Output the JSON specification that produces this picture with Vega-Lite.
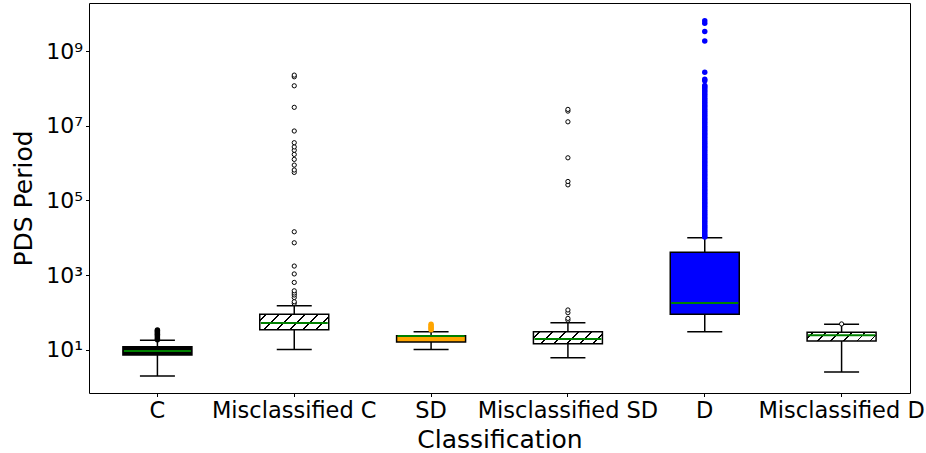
{
  "$schema": "https://vega.github.io/schema/vega-lite/v6.json",
  "width": 821,
  "height": 390,
  "autosize": {"type": "none"},
  "padding": {"left": 89, "top": 3, "right": 16, "bottom": 60},
  "background": "white",
  "config": {
    "font": "DejaVu Sans",
    "view": {"stroke": "#000000", "strokeWidth": 1},
    "axis": {"domain": false, "grid": false, "tickColor": "#000000", "labelColor": "#000000", "titleColor": "#000000", "titleFontWeight": "normal", "tickWidth": 1, "tickSize": 3.5}
  },
  "datasets": {
    "stats": [
      {"cls": "C", "lower": 1.98, "q1": 7.2, "median": 9.2, "q3": 12.0, "upper": 17.9},
      {"cls": "Misclassified C", "lower": 10.2, "q1": 34.3, "median": 51.9, "q3": 88.7, "upper": 150},
      {"cls": "SD", "lower": 10.2, "q1": 16.1, "median": 23.3, "q3": 23.7, "upper": 30.3},
      {"cls": "Misclassified SD", "lower": 6.1, "q1": 14.5, "median": 19.3, "q3": 30.3, "upper": 52.8},
      {"cls": "D", "lower": 30.3, "q1": 88.7, "median": 178, "q3": 4100, "upper": 10000},
      {"cls": "Misclassified D", "lower": 2.53, "q1": 17.1, "median": 24.3, "q3": 29.3, "upper": 47.9}
    ],
    "outliers": [
      {"cls": "C", "value": 18.5}, {"cls": "C", "value": 20}, {"cls": "C", "value": 22}, {"cls": "C", "value": 24}, {"cls": "C", "value": 26}, {"cls": "C", "value": 28}, {"cls": "C", "value": 30}, {"cls": "C", "value": 32}, {"cls": "C", "value": 33.5},
      {"cls": "Misclassified C", "value": 174}, {"cls": "Misclassified C", "value": 193}, {"cls": "Misclassified C", "value": 250}, {"cls": "Misclassified C", "value": 292}, {"cls": "Misclassified C", "value": 330}, {"cls": "Misclassified C", "value": 378}, {"cls": "Misclassified C", "value": 634}, {"cls": "Misclassified C", "value": 1070}, {"cls": "Misclassified C", "value": 1740}, {"cls": "Misclassified C", "value": 7300}, {"cls": "Misclassified C", "value": 14400}, {"cls": "Misclassified C", "value": 560000}, {"cls": "Misclassified C", "value": 650000}, {"cls": "Misclassified C", "value": 880000}, {"cls": "Misclassified C", "value": 1250000}, {"cls": "Misclassified C", "value": 1700000}, {"cls": "Misclassified C", "value": 2200000}, {"cls": "Misclassified C", "value": 2700000}, {"cls": "Misclassified C", "value": 3500000}, {"cls": "Misclassified C", "value": 7200000}, {"cls": "Misclassified C", "value": 31000000}, {"cls": "Misclassified C", "value": 117000000}, {"cls": "Misclassified C", "value": 204000000}, {"cls": "Misclassified C", "value": 226000000},
      {"cls": "SD", "value": 34}, {"cls": "SD", "value": 37}, {"cls": "SD", "value": 40}, {"cls": "SD", "value": 44}, {"cls": "SD", "value": 48},
      {"cls": "Misclassified SD", "value": 62}, {"cls": "Misclassified SD", "value": 69}, {"cls": "Misclassified SD", "value": 98}, {"cls": "Misclassified SD", "value": 116}, {"cls": "Misclassified SD", "value": 260000}, {"cls": "Misclassified SD", "value": 320000}, {"cls": "Misclassified SD", "value": 1380000}, {"cls": "Misclassified SD", "value": 12700000}, {"cls": "Misclassified SD", "value": 24600000}, {"cls": "Misclassified SD", "value": 27300000},
      {"cls": "D", "value": 10500}, {"cls": "D", "value": 11220}, {"cls": "D", "value": 12589}, {"cls": "D", "value": 14125}, {"cls": "D", "value": 15849}, {"cls": "D", "value": 17783}, {"cls": "D", "value": 19953}, {"cls": "D", "value": 22387}, {"cls": "D", "value": 25119}, {"cls": "D", "value": 28184}, {"cls": "D", "value": 31623}, {"cls": "D", "value": 35481}, {"cls": "D", "value": 39811}, {"cls": "D", "value": 44668}, {"cls": "D", "value": 50119}, {"cls": "D", "value": 56234}, {"cls": "D", "value": 63096}, {"cls": "D", "value": 70795}, {"cls": "D", "value": 79433}, {"cls": "D", "value": 89125}, {"cls": "D", "value": 100000}, {"cls": "D", "value": 112202}, {"cls": "D", "value": 125893}, {"cls": "D", "value": 141254}, {"cls": "D", "value": 158489}, {"cls": "D", "value": 177828}, {"cls": "D", "value": 199526}, {"cls": "D", "value": 223872}, {"cls": "D", "value": 251189}, {"cls": "D", "value": 281838}, {"cls": "D", "value": 316228}, {"cls": "D", "value": 354813}, {"cls": "D", "value": 398107}, {"cls": "D", "value": 446684}, {"cls": "D", "value": 501187}, {"cls": "D", "value": 562341}, {"cls": "D", "value": 630957}, {"cls": "D", "value": 707946}, {"cls": "D", "value": 794328}, {"cls": "D", "value": 891251}, {"cls": "D", "value": 1000000}, {"cls": "D", "value": 1122018}, {"cls": "D", "value": 1258925}, {"cls": "D", "value": 1412538}, {"cls": "D", "value": 1584893}, {"cls": "D", "value": 1778279}, {"cls": "D", "value": 1995262}, {"cls": "D", "value": 2238721}, {"cls": "D", "value": 2511886}, {"cls": "D", "value": 2818383}, {"cls": "D", "value": 3162278}, {"cls": "D", "value": 3548134}, {"cls": "D", "value": 3981072}, {"cls": "D", "value": 4466836}, {"cls": "D", "value": 5011872}, {"cls": "D", "value": 5623413}, {"cls": "D", "value": 6309573}, {"cls": "D", "value": 7079458}, {"cls": "D", "value": 7943282}, {"cls": "D", "value": 8912509}, {"cls": "D", "value": 10000000}, {"cls": "D", "value": 11220185}, {"cls": "D", "value": 12589254}, {"cls": "D", "value": 14125375}, {"cls": "D", "value": 15848932}, {"cls": "D", "value": 17782794}, {"cls": "D", "value": 19952623}, {"cls": "D", "value": 22387211}, {"cls": "D", "value": 25118864}, {"cls": "D", "value": 28183829}, {"cls": "D", "value": 31622777}, {"cls": "D", "value": 35481339}, {"cls": "D", "value": 39810717}, {"cls": "D", "value": 44668359}, {"cls": "D", "value": 50118723}, {"cls": "D", "value": 56234133}, {"cls": "D", "value": 63095734}, {"cls": "D", "value": 70794578}, {"cls": "D", "value": 79432823}, {"cls": "D", "value": 89125094}, {"cls": "D", "value": 100000000}, {"cls": "D", "value": 110000000}, {"cls": "D", "value": 120000000}, {"cls": "D", "value": 160000000}, {"cls": "D", "value": 175000000}, {"cls": "D", "value": 270000000}, {"cls": "D", "value": 1840000000}, {"cls": "D", "value": 3350000000}, {"cls": "D", "value": 5500000000}, {"cls": "D", "value": 6500000000},
      {"cls": "Misclassified D", "value": 49}
    ]
  },
  "data": {"name": "stats"},
  "encoding": {
    "x": {
      "field": "cls",
      "type": "nominal",
      "sort": ["C", "Misclassified C", "SD", "Misclassified SD", "D", "Misclassified D"],
      "scale": {"domain": ["C", "Misclassified C", "SD", "Misclassified SD", "D", "Misclassified D"], "paddingInner": 0, "paddingOuter": 0},
      "axis": {"title": "Classification", "titleFontSize": 25, "labelFontSize": 22.5, "labelAngle": 0, "labelPadding": 3, "titlePadding": 5, "labelBaseline": "top", "labelLimit": 400, "labelOverlap": false}
    }
  },
  "layer": [
    {
      "mark": {"type": "rule", "color": "#000000", "strokeWidth": 1.5},
      "encoding": {
        "y": {
          "field": "lower", "type": "quantitative", "title": "PDS Period",
          "scale": {"type": "log", "domain": [0.693, 19300000000], "nice": false, "zero": false},
          "axis": {"values": [10, 1000, 100000, 10000000, 1000000000], "labelFontSize": 22, "titleFontSize": 25, "titlePadding": 9, "labelPadding": 3,
                   "labelExpr": "'10' + ['⁰','¹','²','³','⁴','⁵','⁶','⁷','⁸','⁹'][round(log(datum.value)/LN10)]"}
        },
        "y2": {"field": "q1"}
      }
    },
    {
      "mark": {"type": "rule", "color": "#000000", "strokeWidth": 1.5},
      "encoding": {
        "y": {"field": "q3", "type": "quantitative", "title": "PDS Period"},
        "y2": {"field": "upper"}
      }
    },
    {
      "mark": {"type": "tick", "color": "#000000", "size": 35, "thickness": 1.5, "orient": "horizontal", "opacity": 1},
      "encoding": {"y": {"field": "lower", "type": "quantitative", "title": "PDS Period"}}
    },
    {
      "mark": {"type": "tick", "color": "#000000", "size": 35, "thickness": 1.5, "orient": "horizontal", "opacity": 1},
      "encoding": {"y": {"field": "upper", "type": "quantitative", "title": "PDS Period"}}
    },
    {
      "transform": [{"filter": "indexof(['C','SD','D'], datum.cls) >= 0"}],
      "mark": {"type": "bar", "size": 69, "stroke": "#000000", "strokeWidth": 1.5, "opacity": 1},
      "encoding": {
        "y": {"field": "q1", "type": "quantitative", "title": "PDS Period"},
        "y2": {"field": "q3"},
        "fill": {"field": "cls", "type": "nominal", "legend": null, "scale": {"domain": ["C", "SD", "D"], "range": ["#000000", "#FFA500", "#0000FF"]}}
      }
    },
    {
      "transform": [{"filter": "datum.cls == 'Misclassified C'"}],
      "mark": {"type": "bar", "size": 69, "stroke": "#000000", "strokeWidth": 1.5, "opacity": 1,
        "fill": {"gradient": "linear", "x1": 0, "y1": 0, "x2": 1.165, "y2": 0.26, "stops": [
          {"offset": 0, "color": "#ffffff"},
          {"offset": 0.07, "color": "#ffffff"}, {"offset": 0.07, "color": "#000000"}, {"offset": 0.087, "color": "#000000"}, {"offset": 0.087, "color": "#ffffff"},
          {"offset": 0.224, "color": "#ffffff"}, {"offset": 0.224, "color": "#000000"}, {"offset": 0.241, "color": "#000000"}, {"offset": 0.241, "color": "#ffffff"},
          {"offset": 0.378, "color": "#ffffff"}, {"offset": 0.378, "color": "#000000"}, {"offset": 0.395, "color": "#000000"}, {"offset": 0.395, "color": "#ffffff"},
          {"offset": 0.532, "color": "#ffffff"}, {"offset": 0.532, "color": "#000000"}, {"offset": 0.549, "color": "#000000"}, {"offset": 0.549, "color": "#ffffff"},
          {"offset": 0.686, "color": "#ffffff"}, {"offset": 0.686, "color": "#000000"}, {"offset": 0.703, "color": "#000000"}, {"offset": 0.703, "color": "#ffffff"},
          {"offset": 0.84, "color": "#ffffff"}, {"offset": 0.84, "color": "#000000"}, {"offset": 0.857, "color": "#000000"}, {"offset": 0.857, "color": "#ffffff"},
          {"offset": 1, "color": "#ffffff"}
        ]}},
      "encoding": {
        "y": {"field": "q1", "type": "quantitative", "title": "PDS Period"},
        "y2": {"field": "q3"}
      }
    },
    {
      "transform": [{"filter": "datum.cls == 'Misclassified SD'"}],
      "mark": {"type": "bar", "size": 69, "stroke": "#000000", "strokeWidth": 1.5, "opacity": 1,
        "fill": {"gradient": "linear", "x1": 0, "y1": 0, "x2": 1.139, "y2": 0.198, "stops": [
          {"offset": 0, "color": "#ffffff"},
          {"offset": 0.07, "color": "#ffffff"}, {"offset": 0.07, "color": "#000000"}, {"offset": 0.088, "color": "#000000"}, {"offset": 0.088, "color": "#ffffff"},
          {"offset": 0.23, "color": "#ffffff"}, {"offset": 0.23, "color": "#000000"}, {"offset": 0.248, "color": "#000000"}, {"offset": 0.248, "color": "#ffffff"},
          {"offset": 0.39, "color": "#ffffff"}, {"offset": 0.39, "color": "#000000"}, {"offset": 0.408, "color": "#000000"}, {"offset": 0.408, "color": "#ffffff"},
          {"offset": 0.55, "color": "#ffffff"}, {"offset": 0.55, "color": "#000000"}, {"offset": 0.568, "color": "#000000"}, {"offset": 0.568, "color": "#ffffff"},
          {"offset": 0.71, "color": "#ffffff"}, {"offset": 0.71, "color": "#000000"}, {"offset": 0.728, "color": "#000000"}, {"offset": 0.728, "color": "#ffffff"},
          {"offset": 0.87, "color": "#ffffff"}, {"offset": 0.87, "color": "#000000"}, {"offset": 0.888, "color": "#000000"}, {"offset": 0.888, "color": "#ffffff"},
          {"offset": 1, "color": "#ffffff"}
        ]}},
      "encoding": {
        "y": {"field": "q1", "type": "quantitative", "title": "PDS Period"},
        "y2": {"field": "q3"}
      }
    },
    {
      "transform": [{"filter": "datum.cls == 'Misclassified D'"}],
      "mark": {"type": "bar", "size": 69, "stroke": "#000000", "strokeWidth": 1.5, "opacity": 1,
        "fill": {"gradient": "linear", "x1": 0, "y1": 0, "x2": 1.108, "y2": 0.14, "stops": [
          {"offset": 0, "color": "#ffffff"},
          {"offset": 0.07, "color": "#ffffff"}, {"offset": 0.07, "color": "#000000"}, {"offset": 0.089, "color": "#000000"}, {"offset": 0.089, "color": "#ffffff"},
          {"offset": 0.238, "color": "#ffffff"}, {"offset": 0.238, "color": "#000000"}, {"offset": 0.257, "color": "#000000"}, {"offset": 0.257, "color": "#ffffff"},
          {"offset": 0.406, "color": "#ffffff"}, {"offset": 0.406, "color": "#000000"}, {"offset": 0.425, "color": "#000000"}, {"offset": 0.425, "color": "#ffffff"},
          {"offset": 0.574, "color": "#ffffff"}, {"offset": 0.574, "color": "#000000"}, {"offset": 0.593, "color": "#000000"}, {"offset": 0.593, "color": "#ffffff"},
          {"offset": 0.742, "color": "#ffffff"}, {"offset": 0.742, "color": "#000000"}, {"offset": 0.761, "color": "#000000"}, {"offset": 0.761, "color": "#ffffff"},
          {"offset": 0.91, "color": "#ffffff"}, {"offset": 0.91, "color": "#000000"}, {"offset": 0.929, "color": "#000000"}, {"offset": 0.929, "color": "#ffffff"},
          {"offset": 1, "color": "#ffffff"}
        ]}},
      "encoding": {
        "y": {"field": "q1", "type": "quantitative", "title": "PDS Period"},
        "y2": {"field": "q3"}
      }
    },
    {
      "mark": {"type": "tick", "color": "#008000", "size": 67, "thickness": 2, "orient": "horizontal", "opacity": 1},
      "encoding": {"y": {"field": "median", "type": "quantitative", "title": "PDS Period"}}
    },
    {
      "data": {"name": "outliers"},
      "transform": [{"filter": "indexof(['C','SD','D'], datum.cls) >= 0"}],
      "mark": {"type": "point", "shape": "circle", "filled": true, "size": 30, "opacity": 1},
      "encoding": {
        "y": {"field": "value", "type": "quantitative", "title": "PDS Period"},
        "fill": {"field": "cls", "type": "nominal", "legend": null}
      }
    },
    {
      "data": {"name": "outliers"},
      "transform": [{"filter": "indexof(['C','SD','D'], datum.cls) < 0"}],
      "mark": {"type": "point", "shape": "circle", "filled": false, "fill": "#ffffff", "fillOpacity": 1, "stroke": "#000000", "strokeWidth": 1, "size": 18, "opacity": 1},
      "encoding": {
        "y": {"field": "value", "type": "quantitative", "title": "PDS Period"}
      }
    }
  ]
}
